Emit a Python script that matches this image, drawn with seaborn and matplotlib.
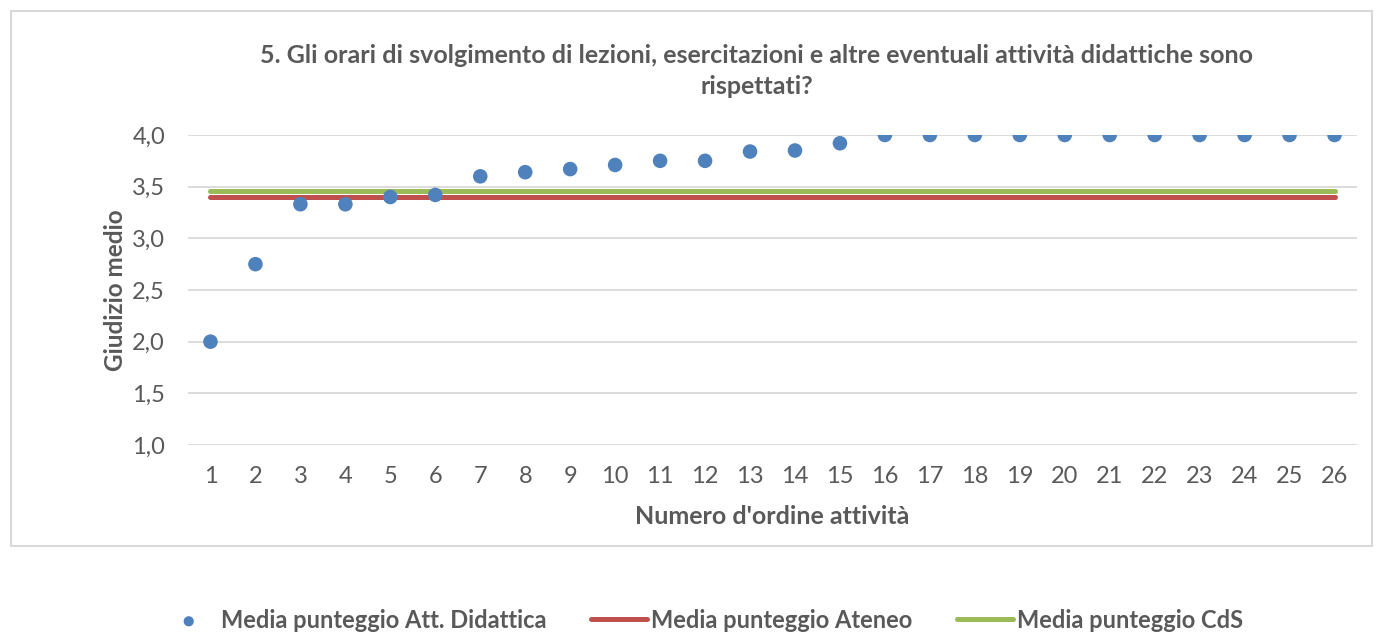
import numpy as np
import pandas as pd
import matplotlib
matplotlib.use("Agg")
import matplotlib.pyplot as plt
import seaborn as sns
from matplotlib.patches import Rectangle
from matplotlib.ticker import FuncFormatter

attivita = list(range(1, 27))
media_att = [2.00, 2.75, 3.33, 3.33, 3.40, 3.42, 3.60, 3.64, 3.67, 3.71, 3.75, 3.75, 3.84,
             3.85, 3.92, 4.00, 4.00, 4.00, 4.00, 4.00, 4.00, 4.00, 4.00, 4.00, 4.00, 4.00]
media_ateneo = 3.40
media_cds = 3.46

title = ("5. Gli orari di svolgimento di lezioni, esercitazioni e altre eventuali attività didattiche sono\n"
         "rispettati?")

df = pd.DataFrame({
    "attivita": attivita,
    "att": media_att,
    "ateneo": [media_ateneo] * len(attivita),
    "cds": [media_cds] * len(attivita),
})

sns.set_style("white")
plt.rcParams["font.family"] = ["Lato", "DejaVu Sans"]
grey = "#595959"

W, H = 1383, 634
fig = plt.figure(figsize=(W / 100, H / 100), dpi=100)
ax = fig.add_axes([188 / W, 1 - 445 / H, (1357 - 188) / W, (445 - 135) / H])

# chart border
fig.patches.append(Rectangle((11 / W, 1 - 546 / H), 1361 / W, 535 / H,
                             transform=fig.transFigure, fill=False,
                             edgecolor="#D9D9D9", linewidth=1.5))

sns.scatterplot(data=df, x="attivita", y="att", ax=ax, color="#4F81BD", s=110,
                edgecolor="none", zorder=4, label="Media punteggio Att. Didattica")
sns.lineplot(data=df, x="attivita", y="ateneo", ax=ax, color="#C0504D", linewidth=3.6,
             zorder=3, label="Media punteggio Ateneo")
sns.lineplot(data=df, x="attivita", y="cds", ax=ax, color="#9BBB59", linewidth=3.6,
             zorder=3, label="Media punteggio CdS")

ax.set_xlim(0.5, 26.5)
ax.set_ylim(1.0, 4.0)
ax.set_yticks(np.arange(1.0, 4.01, 0.5))
ax.set_xticks(attivita)
ax.yaxis.set_major_formatter(FuncFormatter(lambda v, p: f"{v:.1f}".replace(".", ",")))
ax.grid(axis="y", color="#D9D9D9", linewidth=1.3)
ax.set_axisbelow(True)
for s in ax.spines.values():
    s.set_visible(False)
ax.tick_params(axis="both", length=0, labelsize=17, labelcolor=grey)
ax.tick_params(axis="x", pad=15)
ax.tick_params(axis="y", pad=16.5)

ax.set_xlabel("Numero d'ordine attività", fontsize=18, fontweight="bold", color=grey, labelpad=13)
ax.set_ylabel("Giudizio medio", fontsize=17.5, fontweight="bold", color=grey, labelpad=4)

fig.text(757 / W, 1 - 71 / H, title, ha="center", va="center", fontsize=18,
         fontweight="bold", color=grey, linespacing=1.45)

handles, labels = ax.get_legend_handles_labels()
ax.get_legend().remove()
leg = fig.legend(handles, labels, loc="center", bbox_to_anchor=(702 / W, 1 - 620 / H),
                 ncol=3, frameon=False, fontsize=17, columnspacing=1.9,
                 handlelength=2.37, handletextpad=0.17, markerscale=0.7)
for t in leg.get_texts():
    t.set_color(grey)
    t.set_fontweight("bold")

fig.savefig("out.png", dpi=100)
